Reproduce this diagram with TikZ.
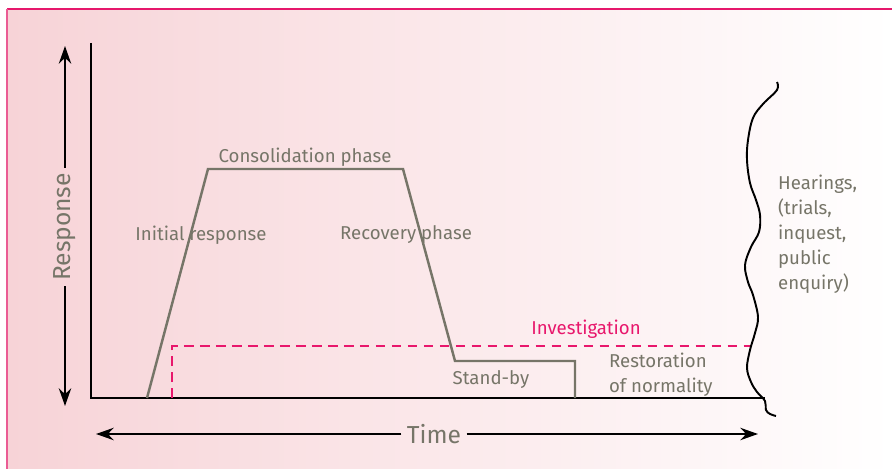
\documentclass[tikz,border=0pt]{standalone}
\usepackage{fontspec}
\setmainfont{Fira Sans}
\usetikzlibrary{arrows.meta}

\definecolor{bgpink}{RGB}{247,211,215}
\definecolor{framered}{RGB}{230,24,108}
\definecolor{frameleft}{RGB}{234,92,148}
\definecolor{curvegrey}{RGB}{118,117,104}
\definecolor{invmag}{RGB}{232,23,108}

\tikzset{
  axisline/.style={line width=1.3pt, black},
  bigarrow/.style={line width=1.3pt, black, -{Stealth[length=10pt,width=7pt]}},
  phase/.style={text=curvegrey, font=\fontsize{10.6}{14.2}\selectfont, inner sep=1pt},
  biglabel/.style={text=curvegrey, font=\fontsize{14}{16}\selectfont, inner sep=3pt},
  respcurve/.style={line width=1.4pt, curvegrey},
  invline/.style={line width=1.3pt, invmag, dash pattern=on 5.5pt off 3.6pt},
}

\begin{document}
\begin{tikzpicture}[x=0.02cm, y=-0.02cm]
\useasboundingbox (0,0) rectangle (892,469);

%% Background panel
\shade[left color=bgpink, right color=white] (7,9) rectangle (892,469);
\draw[framered, line width=0.8pt] (7,9) -- (892,9);
\draw[frameleft, line width=0.8pt] (7,9) -- (7,469);

%% Axis
\coordinate (ytop) at (91,43);
\coordinate (origin) at (91,398);
\coordinate (xend) at (765,398);
\draw[axisline] (ytop) -- (origin) -- (xend);

%% Response arrow
\node[biglabel, rotate=90] (resp) at (65,227) {Response};
\coordinate (rtop) at (65,46);
\coordinate (rbot) at (65,406);
\draw[bigarrow] (resp.east) -- (rtop);
\draw[bigarrow] (resp.west) -- (rbot);

%% Time arrow
\node[biglabel] (time) at (434,434) {Time};
\coordinate (tleft) at (96,434);
\coordinate (tright) at (758,434);
\draw[bigarrow] (time.west) -- (tleft);
\draw[bigarrow] (time.east) -- (tright);

%% Response curve
\coordinate (c0) at (147,398);
\coordinate (c1) at (208,169);
\coordinate (c2) at (403,169);
\coordinate (c3) at (455,361);
\coordinate (c4) at (575,361);
\coordinate (c5) at (575,398);
\draw[respcurve] (c0) -- (c1) -- (c2) -- (c3) -- (c4) -- (c5);

%% Investigation
\coordinate (i0) at (172,398);
\coordinate (i1) at (172,346);
\coordinate (i2) at (751,346);
\draw[invline] (i0) -- (i1) -- (i2);

%% Hearings boundary
\draw[line width=1.1pt, black] plot[smooth, tension=0.6] coordinates {
  (777,82) (777,90) (763,104) (753,118) (748,140) (747,160) (750,183)
  (756,200) (760,215) (759,232) (751,247) (745,265) (748,282) (753,295)
  (758,317) (755,333) (750,350) (747,368) (751,382) (757,392) (765,401)
  (766,410) (770,414) (776,416)};

%% Labels
\node[phase] (cons) at (305,157) {Consolidation phase};
\node[phase] (init) at (201,235) {Initial response};
\node[phase] (recov) at (406,235) {Recovery phase};
\node[phase, text=invmag] (inv) at (586,329) {Investigation};
\node[phase] (stand) at (491,379) {Stand-by};
\node[phase, align=left, anchor=west] (rest) at (607,375) {Restoration\\of normality};
\node[phase, align=left, anchor=west] (hear) at (776,234) {Hearings,\\(trials,\\inquest,\\public\\enquiry)};
\end{tikzpicture}
\end{document}
